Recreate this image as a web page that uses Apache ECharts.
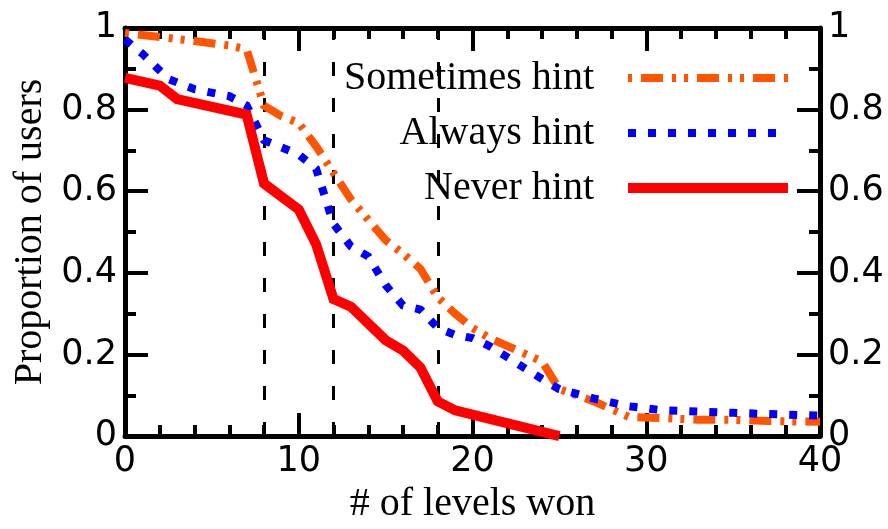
<!DOCTYPE html>
<html>
<head>
<meta charset="utf-8">
<script src="https://cdn.jsdelivr.net/npm/echarts@6/dist/echarts.min.js"></script>
<style>
  html, body { margin: 0; padding: 0; background: #fff; }
  #chart { width: 888px; height: 529px; }
</style>
</head>
<body>
<div id="chart"></div>
<script>
// values
const sometimesX = [0, 2, 4, 6, 7, 8, 9, 10, 11, 12, 13, 15, 16, 17, 18, 19, 20, 21, 24, 25, 27, 29, 31, 33, 35, 37, 40]
const sometimesY = [0.988, 0.978, 0.968, 0.957, 0.948, 0.81, 0.784, 0.767, 0.71, 0.645, 0.58, 0.48, 0.447, 0.41, 0.34, 0.30, 0.265, 0.24, 0.183, 0.115, 0.085, 0.047, 0.044, 0.04, 0.04, 0.037, 0.035]

const alwaysX = [0, 1, 2.5, 4, 6, 7, 8, 10, 11, 12, 13, 14, 15, 16, 17, 18, 19, 20, 21, 24, 25, 27, 29, 31, 35, 40]
const alwaysY = [0.972, 0.937, 0.875, 0.85, 0.833, 0.81, 0.725, 0.69, 0.655, 0.52, 0.465, 0.44, 0.37, 0.32, 0.31, 0.265, 0.248, 0.24, 0.22, 0.14, 0.115, 0.092, 0.073, 0.063, 0.057, 0.05]

const neverX = [0, 2, 3, 7, 8, 10, 11, 12, 13, 15, 16, 17, 18, 19, 25]
const neverY = [0.878, 0.859, 0.826, 0.788, 0.619, 0.555, 0.47, 0.336, 0.317, 0.235, 0.21, 0.168, 0.085, 0.063, 0]

const markLevels = [8, 12, 18]
const seriesNames = ['Sometimes hint', 'Always hint', 'Never hint']
const xRange = [0, 40, 10] // min, max, interval
const yRange = [0, 1, 0.2]

const COLORS = ['#ff5500', '#0000ff', '#ff0000']
const DASHES = [[4, 9, 22, 9, 4, 8], [8, 12], 'solid']
const WIDTHS = [8, 8, 10]

const SANS = 'DejaVu Sans'
const SERIF = 'Liberation Serif'

const toPairs = (xs, ys) => xs.map((x, i) => [x, ys[i]])

// axis look shared by all four sides of the frame
function frameAxis(extra) {
    return Object.assign({
        type: 'value',
        axisLine: { show: true, onZero: false, lineStyle: { color: '#000', width: 5 } },
        axisTick: { show: true, inside: true, length: 23, lineStyle: { color: '#000', width: 4 } },
        minorTick: { show: true, length: 11, lineStyle: { color: '#000', width: 4 } },
        splitLine: { show: false },
        minorSplitLine: { show: false },
        axisLabel: { color: '#000', fontFamily: SANS, fontSize: 35, margin: 8 }
    }, extra)
}

const chart = echarts.init(document.getElementById('chart'))

const lineSeries = [sometimesX, alwaysX, neverX].map((xs, i) => ({
    name: seriesNames[i],
    type: 'line',
    data: toPairs(xs, [sometimesY, alwaysY, neverY][i]),
    showSymbol: false,
    symbol: 'none',
    z: 3 + i,
    lineStyle: { color: COLORS[i], width: WIDTHS[i], type: DASHES[i], cap: 'butt', join: 'miter' }
}))

// vertical dashed guides
lineSeries[0].markLine = {
    silent: true,
    symbol: ['none', 'none'],
    label: { show: false },
    lineStyle: { color: '#000', width: 3, type: [14, 22] },
    z: 1,
    data: markLevels.map(v => ({ xAxis: v }))
}

// legend drawn by hand: text right-aligned, sample line to its right
const legendY = [78, 133, 188]
const legendGraphics = []
seriesNames.forEach((name, i) => {
    legendGraphics.push({
        type: 'text',
        x: 594,
        y: legendY[i],
        style: {
            text: name,
            font: `40px "${SERIF}"`,
            fill: '#000',
            align: 'right',
            verticalAlign: 'middle',
            textAlign: 'right',
            textVerticalAlign: 'middle'
        }
    })
    legendGraphics.push({
        type: 'line',
        shape: { x1: 628, y1: legendY[i], x2: 788, y2: legendY[i] },
        style: {
            stroke: COLORS[i],
            lineWidth: WIDTHS[i],
            lineDash: DASHES[i] === 'solid' ? null : DASHES[i],
            lineCap: 'butt'
        }
    })
})

chart.setOption({
    animation: false,
    backgroundColor: '#fff',
    grid: { left: 125, right: 68, top: 28, bottom: 76, containLabel: false },
    xAxis: [
        frameAxis({
            min: xRange[0], max: xRange[1], interval: xRange[2],
            position: 'bottom',
            minorTick: { show: true, splitNumber: 5, length: 11, lineStyle: { color: '#000', width: 4 } },
            name: '# of levels won',
            nameLocation: 'middle',
            nameGap: 37,
            nameTextStyle: { color: '#000', fontFamily: SERIF, fontSize: 40 }
        }),
        frameAxis({
            min: xRange[0], max: xRange[1], interval: xRange[2],
            position: 'top',
            minorTick: { show: true, splitNumber: 5, length: 11, lineStyle: { color: '#000', width: 4 } },
            axisLabel: { show: false }
        })
    ],
    yAxis: [
        frameAxis({
            min: yRange[0], max: yRange[1], interval: yRange[2],
            position: 'left',
            minorTick: { show: true, splitNumber: 2, length: 11, lineStyle: { color: '#000', width: 4 } },
            name: 'Proportion of users',
            nameLocation: 'middle',
            nameGap: 72,
            nameTextStyle: { color: '#000', fontFamily: SERIF, fontSize: 40 }
        }),
        frameAxis({
            min: yRange[0], max: yRange[1], interval: yRange[2],
            position: 'right',
            minorTick: { show: true, splitNumber: 2, length: 11, lineStyle: { color: '#000', width: 4 } }
        })
    ],
    graphic: legendGraphics,
    series: lineSeries
})
</script>
</body>
</html>
